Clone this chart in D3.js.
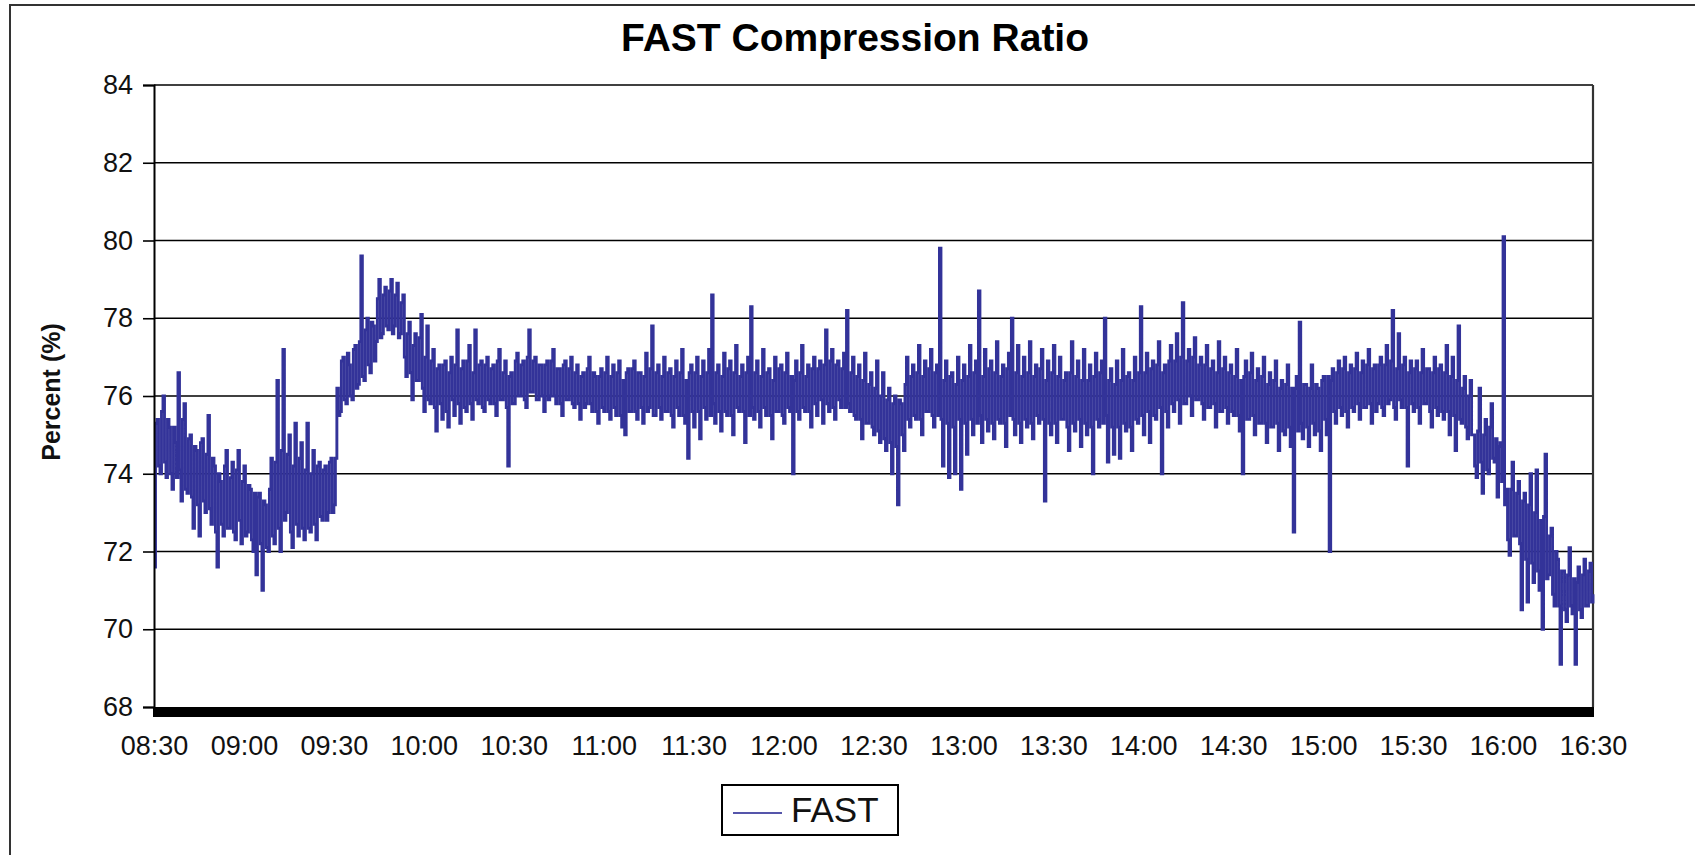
<!DOCTYPE html>
<html>
<head>
<meta charset="utf-8">
<script src="https://cdn.jsdelivr.net/npm/d3@7"></script>
<style>
  html, body { margin: 0; padding: 0; background: #fff; overflow: hidden; }
  svg { display: block; font-family: "Liberation Sans", Arial, sans-serif; }
</style>
</head>
<body>
<svg id="chart" width="1695" height="855"></svg>
<script>
// ---- data ----
const chartTitle = "FAST Compression Ratio";
const yAxisTitle = "Percent (%)";
const seriesName = "FAST";
const startTime = "08:30";
const xTickLabels = ["08:30","09:00","09:30","10:00","10:30","11:00","11:30","12:00","12:30","13:00","13:30","14:00","14:30","15:00","15:30","16:00","16:30"];
const yTickValues = [68,70,72,74,76,78,80,82,84];
// readings on the whole minute, 08:30 .. 16:30
const fastValues = [
  71.6, 75.4, 74.0, 76.0, 73.9, 75.2, 73.6, 74.8, 76.6, 73.3,
  75.8, 73.5, 75.0, 72.6, 74.6, 72.4, 74.9, 73.0, 75.5, 72.7,
  74.2, 71.6, 73.8, 72.4, 74.6, 72.6, 74.3, 72.3, 74.6, 72.2,
  74.2, 72.5, 73.6, 72.0, 71.4, 73.5, 71.0, 73.2, 72.0, 74.4,
  72.2, 76.4, 72.0, 77.2, 73.0, 75.0, 72.1, 75.3, 72.4, 74.8,
  72.3, 75.3, 72.5, 74.6, 72.3, 74.3, 72.8, 74.2, 73.0, 74.4,
  73.2, 76.2, 75.6, 77.0, 75.8, 76.8, 75.9, 77.3, 76.3, 79.6,
  76.4, 78.0, 76.6, 77.8, 77.4, 79.0, 77.6, 78.8, 77.7, 79.0,
  77.8, 78.9, 77.6, 78.6, 76.5, 77.9, 75.9, 77.6, 76.4, 78.1,
  75.6, 77.8, 75.8, 77.2, 75.1, 76.8, 75.4, 76.9, 75.2, 77.0,
  75.5, 77.7, 75.3, 76.9, 75.6, 77.3, 75.4, 77.7, 75.8, 76.9,
  75.6, 77.0, 75.8, 76.8, 75.5, 77.2, 75.9, 76.9, 74.2, 76.6,
  75.8, 77.1, 76.0, 76.9, 75.7, 77.7, 76.1, 77.0, 75.9, 76.8,
  75.6, 76.9, 76.0, 77.2, 75.8, 76.7, 75.5, 76.9, 75.9, 77.0,
  75.7, 76.8, 75.4, 76.6, 75.8, 77.0, 75.6, 76.5, 75.3, 76.7,
  75.6, 77.0, 75.4, 76.8, 75.5, 76.9, 75.2, 75.0, 76.7, 75.6,
  76.9, 75.4, 76.6, 75.3, 77.1, 75.7, 77.8, 75.5, 76.8, 75.4,
  77.0, 75.6, 76.7, 75.2, 76.9, 75.5, 77.2, 75.3, 74.4, 76.8,
  75.2, 77.0, 74.9, 76.9, 75.4, 77.2, 78.6, 75.3, 76.8, 75.1,
  77.1, 75.5, 76.9, 75.0, 77.3, 75.6, 76.8, 74.8, 77.0, 78.3,
  75.4, 76.9, 75.2, 77.2, 75.5, 76.7, 74.9, 77.0, 75.6, 76.8,
  75.3, 77.1, 75.6, 74.0, 76.9, 75.4, 77.3, 75.6, 76.8, 75.2,
  77.0, 75.5, 76.9, 75.3, 77.7, 75.6, 77.2, 75.4, 76.9, 75.7,
  77.1, 78.2, 75.6, 77.0, 75.4, 76.8, 74.9, 77.1, 75.3, 76.6,
  75.0, 76.9, 74.8, 76.6, 74.6, 76.2, 74.0, 76.0, 73.2, 75.8,
  74.6, 77.0, 75.2, 76.8, 75.4, 77.3, 75.0, 76.9, 75.6, 77.2,
  75.2, 76.8, 79.8, 74.2, 76.9, 73.9, 76.6, 74.0, 77.0, 73.6,
  76.8, 74.5, 77.3, 75.0, 76.9, 78.7, 74.8, 77.2, 75.1, 76.9,
  74.9, 77.4, 75.3, 76.8, 74.7, 77.1, 78.0, 75.0, 77.3, 74.8,
  77.0, 75.2, 77.4, 74.9, 76.8, 75.3, 77.2, 73.3, 76.9, 75.0,
  77.3, 74.8, 77.0, 75.4, 76.6, 74.6, 77.4, 75.1, 76.9, 74.7,
  77.2, 75.0, 76.8, 74.0, 77.1, 75.2, 76.9, 78.0, 74.3, 76.7,
  74.5, 76.9, 74.4, 77.2, 75.1, 76.6, 74.6, 77.0, 75.3, 78.3,
  75.0, 77.1, 74.8, 76.9, 75.4, 77.4, 74.0, 76.8, 75.2, 77.3,
  75.6, 77.6, 75.3, 78.4, 75.8, 77.2, 75.5, 77.5, 75.9, 77.0,
  75.4, 77.3, 75.7, 76.9, 75.2, 77.4, 75.6, 77.0, 75.3, 76.8,
  75.5, 77.2, 75.1, 74.0, 76.9, 75.4, 77.1, 75.0, 76.7, 75.3,
  77.0, 74.8, 76.6, 75.2, 76.9, 74.6, 76.4, 75.0, 76.8, 74.7,
  72.5, 76.5, 77.9, 74.9, 76.3, 74.7, 76.8, 75.0, 76.2, 74.6,
  76.5, 75.0, 72.0, 76.7, 75.3, 76.9, 75.5, 77.0, 75.2, 76.8,
  75.6, 77.1, 75.4, 76.9, 75.7, 77.2, 75.3, 76.8, 75.8, 77.0,
  75.5, 77.3, 75.9, 78.2, 75.4, 77.6, 75.7, 77.0, 74.2, 76.9,
  75.6, 76.9, 75.3, 77.2, 75.8, 76.7, 75.2, 77.0, 75.5, 76.8,
  75.4, 77.3, 75.0, 77.0, 74.6, 77.8, 75.3, 76.5, 74.9, 76.4,
  75.0, 73.9, 76.2, 73.5, 75.4, 74.0, 75.8, 74.3, 73.4, 74.8,
  80.1, 73.6, 71.9, 74.3, 72.4, 73.8, 70.5, 73.5, 70.7, 74.0,
  71.2, 74.1, 71.0, 70.0, 74.5, 71.4, 72.6, 70.6, 71.8, 69.1,
  71.5, 70.2, 72.1, 70.4, 69.1, 71.6, 70.3, 71.8, 70.6, 71.7, 70.9
];
// readings on the half minute, 08:30:30 .. 16:29:30
const fastHalfValues = [
  75.3, 74.2, 75.6, 74.3, 75.4, 74.0, 75.2, 73.9, 74.1, 75.4,
  73.6, 74.9, 73.4, 74.7, 73.2, 74.8, 73.3, 74.5, 73.1, 74.4,
  72.5, 74.0, 72.7, 74.2, 72.6, 73.9, 72.5, 74.1, 72.8, 73.8,
  72.4, 73.7, 72.3, 73.5, 73.4, 72.2, 73.3, 72.1, 73.6, 72.4,
  74.3, 72.6, 74.6, 72.8, 74.5, 72.5, 74.2, 72.7, 74.4, 72.6,
  74.1, 72.6, 74.0, 72.7, 74.2, 72.9, 74.1, 72.8, 74.3, 73.0,
  74.4, 75.5, 76.9, 75.9, 77.1, 76.0, 77.2, 76.2, 77.4, 76.5,
  77.7, 76.8, 77.9, 76.9, 78.5, 77.5, 78.6, 77.8, 78.7, 77.6,
  78.6, 77.5, 78.4, 77.0, 77.6, 76.6, 77.3, 76.4, 77.5, 76.2,
  77.0, 75.9, 76.9, 75.7, 76.7, 75.8, 76.8, 75.6, 76.6, 75.9,
  76.8, 75.8, 76.7, 75.7, 76.9, 75.8, 76.6, 75.9, 76.8, 75.7,
  76.8, 75.9, 76.7, 75.8, 76.9, 75.9, 76.6, 75.7, 76.5, 75.8,
  76.9, 76.0, 76.8, 75.9, 77.0, 76.1, 76.9, 75.9, 76.8, 76.0,
  76.8, 75.9, 76.9, 76.0, 76.7, 75.8, 76.8, 75.9, 76.7, 75.8,
  76.6, 75.8, 76.5, 75.7, 76.7, 75.8, 76.6, 75.6, 76.5, 75.7,
  76.6, 75.6, 76.5, 75.7, 76.6, 75.5, 76.4, 76.6, 75.6, 76.7,
  75.6, 76.6, 75.7, 76.5, 75.6, 76.7, 75.5, 76.6, 75.7, 76.5,
  75.6, 76.6, 75.5, 76.5, 75.7, 76.6, 75.5, 76.4, 76.6, 75.6,
  76.6, 75.6, 76.5, 75.7, 76.6, 75.5, 75.8, 76.6, 75.6, 76.5,
  75.6, 76.7, 75.5, 76.6, 75.7, 76.5, 75.6, 76.6, 75.5, 75.7,
  76.6, 75.6, 76.5, 75.7, 76.6, 75.5, 76.4, 75.6, 76.7, 75.5,
  76.6, 75.7, 76.5, 76.4, 75.6, 76.6, 75.7, 76.5, 75.6, 76.7,
  75.8, 76.7, 75.9, 76.8, 75.8, 76.9, 75.7, 76.8, 75.9, 76.7,
  75.7, 75.8, 76.6, 75.5, 76.5, 75.4, 76.4, 75.3, 76.3, 75.2,
  76.2, 75.1, 76.0, 74.9, 75.9, 74.8, 75.8, 74.7, 75.9, 75.0,
  76.3, 75.4, 76.5, 75.5, 76.6, 75.4, 76.5, 75.6, 76.7, 75.5,
  76.6, 75.5, 75.4, 76.4, 75.3, 76.5, 75.2, 76.3, 75.4, 76.4,
  75.3, 76.5, 75.4, 76.6, 75.3, 75.5, 76.5, 75.4, 76.7, 75.3,
  76.6, 75.4, 76.5, 75.3, 76.7, 75.5, 75.4, 76.6, 75.3, 76.5,
  75.4, 76.6, 75.3, 76.5, 75.5, 76.7, 75.4, 76.4, 75.3, 76.6,
  75.3, 76.5, 75.4, 76.4, 75.2, 76.6, 75.3, 76.5, 75.4, 76.4,
  75.3, 76.4, 75.2, 76.5, 75.4, 76.6, 75.3, 75.5, 76.4, 75.2,
  76.3, 75.2, 76.4, 75.3, 76.5, 75.2, 76.4, 75.4, 76.6, 75.5,
  76.6, 75.6, 76.7, 75.5, 76.8, 75.7, 76.6, 75.6, 76.9, 75.8,
  76.9, 75.9, 77.0, 75.8, 76.9, 76.0, 77.0, 75.9, 76.8, 75.8,
  76.8, 75.7, 76.7, 75.8, 76.6, 75.6, 76.7, 75.7, 76.6, 75.6,
  76.5, 75.5, 76.4, 76.5, 75.4, 76.6, 75.5, 76.4, 75.3, 76.5,
  75.3, 76.3, 75.2, 76.4, 75.3, 76.2, 75.1, 76.3, 75.2, 76.2,
  76.2, 75.1, 75.3, 76.3, 75.2, 76.2, 75.3, 76.3, 75.1, 76.4,
  75.4, 76.5, 76.4, 75.6, 76.6, 75.7, 76.7, 75.6, 76.6, 75.7,
  76.7, 75.8, 76.6, 75.7, 76.8, 75.8, 76.7, 75.6, 76.8, 75.7,
  76.8, 75.8, 76.9, 75.7, 76.7, 75.9, 76.8, 75.7, 76.6, 75.8,
  76.7, 75.7, 76.6, 75.8, 76.7, 75.6, 76.6, 75.7, 76.7, 75.6,
  76.6, 75.6, 76.5, 75.5, 76.4, 75.4, 76.2, 75.2, 76.0, 75.0,
  74.2, 75.1, 74.3, 75.0, 74.1, 75.2, 74.4, 74.9, 74.7, 73.8,
  73.2, 72.3, 73.6, 72.4, 73.5, 72.2, 73.3, 71.8, 73.2, 71.7,
  73.0, 71.5, 72.8, 72.9, 71.3, 72.4, 70.9, 72.0, 70.6, 71.5,
  70.5, 71.4, 70.6, 71.3, 71.2, 70.5, 71.4, 70.6, 71.5, 70.7
];

// ---- layout ----
const svg = d3.select("#chart");
const M = { left: 154, right: 1593, top: 85, bottom: 707 };
const parseT = d3.timeParse("%H:%M");
const t0 = parseT(startTime);
const pts = [];
fastValues.forEach((v, i) => {
  pts.push({ t: d3.timeSecond.offset(t0, i * 60), v });
  if (i < fastHalfValues.length) pts.push({ t: d3.timeSecond.offset(t0, i * 60 + 30), v: fastHalfValues[i] });
});

const x = d3.scaleTime()
  .domain([parseT(xTickLabels[0]), parseT(xTickLabels[xTickLabels.length - 1])])
  .range([M.left, M.right]);
const y = d3.scaleLinear()
  .domain([d3.min(yTickValues), d3.max(yTickValues)])
  .range([M.bottom, M.top]);

// outer frame
svg.append("rect")
  .attr("x", 10).attr("y", 5).attr("width", 1720).attr("height", 900)
  .attr("fill", "none").attr("stroke", "#333").attr("stroke-width", 2);

// title
svg.append("text")
  .attr("x", 855).attr("y", 51)
  .attr("text-anchor", "middle")
  .attr("font-size", 39).attr("font-weight", "bold")
  .attr("fill", "#000")
  .text(chartTitle);

// gridlines
svg.append("g")
  .selectAll("line")
  .data(yTickValues.filter(v => v !== d3.min(yTickValues)))
  .join("line")
  .attr("x1", M.left).attr("x2", M.right)
  .attr("y1", d => y(d)).attr("y2", d => y(d))
  .attr("stroke", "#000").attr("stroke-width", 1.6);

// right border of plot
svg.append("line")
  .attr("x1", M.right).attr("x2", M.right)
  .attr("y1", M.top).attr("y2", M.bottom)
  .attr("stroke", "#333").attr("stroke-width", 2.2);

// series line (dense sampled signal drawn as a stepped trace)
const line = d3.line().curve(d3.curveStepAfter).x(d => x(d.t)).y(d => y(d.v));
svg.append("path")
  .datum(pts)
  .attr("d", line)
  .attr("fill", "none")
  .attr("stroke", "#333399")
  .attr("stroke-width", 2.9)
  .attr("stroke-linejoin", "miter");

// y axis
const yAxis = d3.axisLeft(y).tickValues(yTickValues).tickSize(11).tickPadding(10).tickFormat(d3.format("d"));
const gy = svg.append("g").attr("transform", `translate(${M.left},0)`).call(yAxis);
gy.select(".domain").attr("stroke", "#000").attr("stroke-width", 2);
gy.selectAll(".tick line").attr("stroke", "#000").attr("stroke-width", 1.6);
gy.selectAll(".tick text")
  .attr("font-size", 27).attr("fill", "#111")
  .attr("font-family", "'Liberation Sans', Arial, sans-serif");

// thick bottom axis band
svg.append("rect")
  .attr("x", M.left - 1).attr("y", M.bottom)
  .attr("width", M.right - M.left + 2).attr("height", 10)
  .attr("fill", "#000");

// x axis labels
const xAxis = d3.axisBottom(x)
  .tickValues(xTickLabels.map(parseT))
  .tickFormat(d3.timeFormat("%H:%M"))
  .tickSize(0).tickPadding(0);
const gx = svg.append("g").attr("transform", `translate(0,${M.bottom})`).call(xAxis);
gx.select(".domain").remove();
gx.selectAll(".tick text")
  .attr("y", 48).attr("dy", 0)
  .attr("font-size", 27).attr("fill", "#111")
  .attr("font-family", "'Liberation Sans', Arial, sans-serif");

// y axis title
svg.append("text")
  .attr("transform", "translate(60,392) rotate(-90)")
  .attr("text-anchor", "middle")
  .attr("font-size", 25).attr("font-weight", "bold")
  .attr("fill", "#111")
  .text(yAxisTitle);

// legend
const lg = svg.append("g");
lg.append("rect")
  .attr("x", 722).attr("y", 785).attr("width", 176).attr("height", 50)
  .attr("fill", "#fff").attr("stroke", "#000").attr("stroke-width", 2);
lg.append("line")
  .attr("x1", 733).attr("x2", 782).attr("y1", 813).attr("y2", 813)
  .attr("stroke", "#5555aa").attr("stroke-width", 2);
lg.append("text")
  .attr("x", 791).attr("y", 822)
  .attr("font-size", 35).attr("fill", "#111")
  .text(seriesName);
</script>
</body>
</html>
